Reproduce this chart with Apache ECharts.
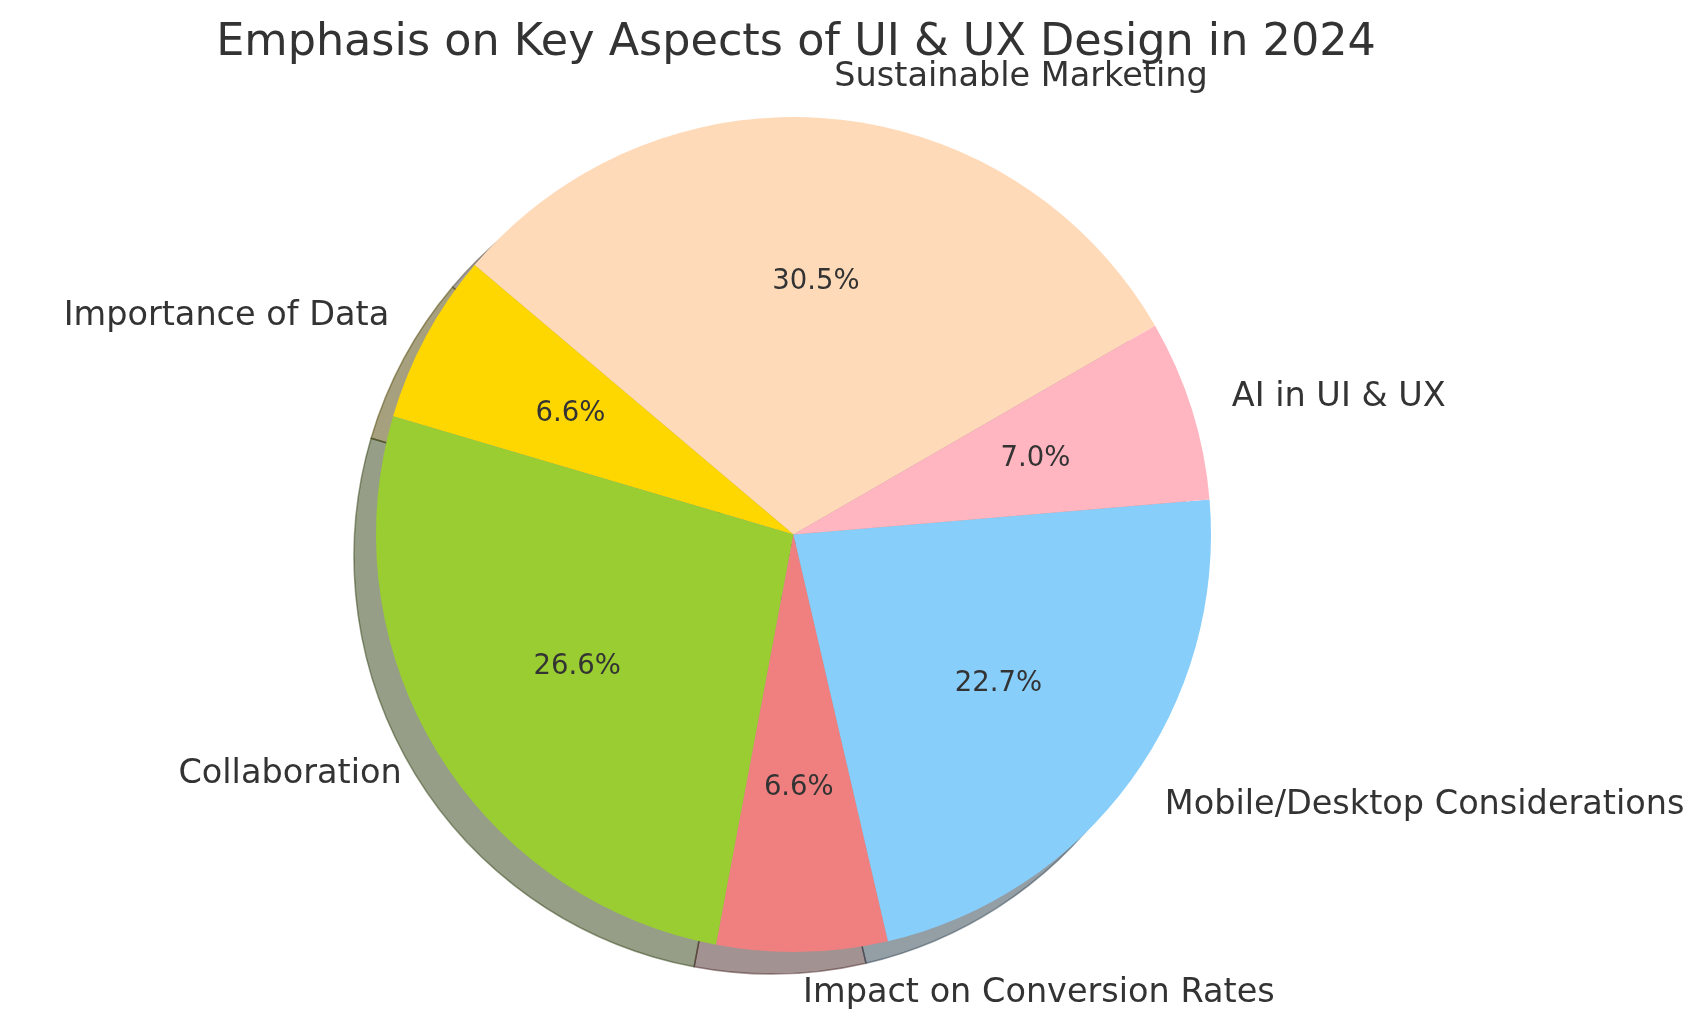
<!DOCTYPE html>
<html>
<head>
<meta charset="utf-8">
<script src="https://cdn.jsdelivr.net/npm/echarts@6/dist/echarts.min.js"></script>
<style>
html,body{margin:0;padding:0;background:#fff;}
#chart{width:1703px;height:1030px;}
</style>
</head>
<body>
<div id="chart"></div>
<script>
const categories = ['Sustainable Marketing', 'Importance of Data', 'Collaboration', 'Impact on Conversion Rates', 'Mobile/Desktop Considerations', 'AI in UI & UX'];
const values = [30.5, 6.6, 26.6, 6.6, 22.7, 7.0];
const colors = ['#FFDAB9', '#FFD700', '#9ACD32', '#F08080', '#87CEFA', '#FFB6C1'];
const titleText = 'Emphasis on Key Aspects of UI & UX Design in 2024';

const R = 417.5;
const CX = 793.5, CY = 534.5;
const SHADOW_DX = -22, SHADOW_DY = 22;
const FONT = 'DejaVu Sans';

function shadowColor(hex) {
  const r = parseInt(hex.slice(1, 3), 16), g = parseInt(hex.slice(3, 5), 16), b = parseInt(hex.slice(5, 7), 16);
  return 'rgba(' + Math.round(r * 0.3) + ',' + Math.round(g * 0.3) + ',' + Math.round(b * 0.3) + ',0.5)';
}

const mainData = categories.map((c, i) => ({ name: c, value: values[i], itemStyle: { color: colors[i] } }));
const shadowData = categories.map((c, i) => ({ name: c, value: values[i], itemStyle: { color: shadowColor(colors[i]), borderColor: shadowColor(colors[i]), borderWidth: 1.5 } }));
const pctData = categories.map((c, i) => ({ name: c, value: values[i] }));

const chart = echarts.init(document.getElementById('chart'), null, { renderer: 'canvas' });
chart.setOption({
  animation: false,
  backgroundColor: '#ffffff',
  title: {
    text: titleText,
    left: 791,
    top: 15.5,
    textAlign: 'center',
    textStyle: { fontFamily: FONT, fontSize: 44.5, fontWeight: 'normal', color: '#333333', lineHeight: 45 }
  },
  series: [
    {
      type: 'pie',
      z: 1,
      silent: true,
      center: [CX + SHADOW_DX, CY + SHADOW_DY],
      radius: [0, R],
      startAngle: 30,
      clockwise: false,
      label: { show: false },
      labelLine: { show: false },
      emphasis: { disabled: true },
      data: shadowData
    },
    {
      type: 'pie',
      z: 2,
      silent: true,
      center: [CX, CY],
      radius: [0, R],
      startAngle: 30,
      clockwise: false,
      avoidLabelOverlap: false,
      itemStyle: { borderWidth: 0 },
      label: {
        show: true,
        position: 'outside',
        formatter: '{b}',
        fontFamily: FONT,
        fontSize: 33.5,
        color: '#333333',
        distanceToLabelLine: 0,
        alignTo: 'none'
      },
      labelLine: { show: true, length: R * 0.1, length2: 0, lineStyle: { opacity: 0, width: 0 } },
      emphasis: { disabled: true },
      data: mainData
    },
    {
      type: 'pie',
      z: 3,
      silent: true,
      center: [CX, CY],
      radius: [0, R * 1.2],
      startAngle: 30,
      clockwise: false,
      avoidLabelOverlap: false,
      itemStyle: { color: 'rgba(0,0,0,0)', borderWidth: 0 },
      label: {
        show: true,
        position: 'inside',
        formatter: function (p) { return p.value.toFixed(1) + '%'; },
        fontFamily: FONT,
        fontSize: 27.5,
        color: '#333333'
      },
      labelLine: { show: false },
      emphasis: { disabled: true },
      data: pctData
    }
  ]
});
</script>
</body>
</html>
